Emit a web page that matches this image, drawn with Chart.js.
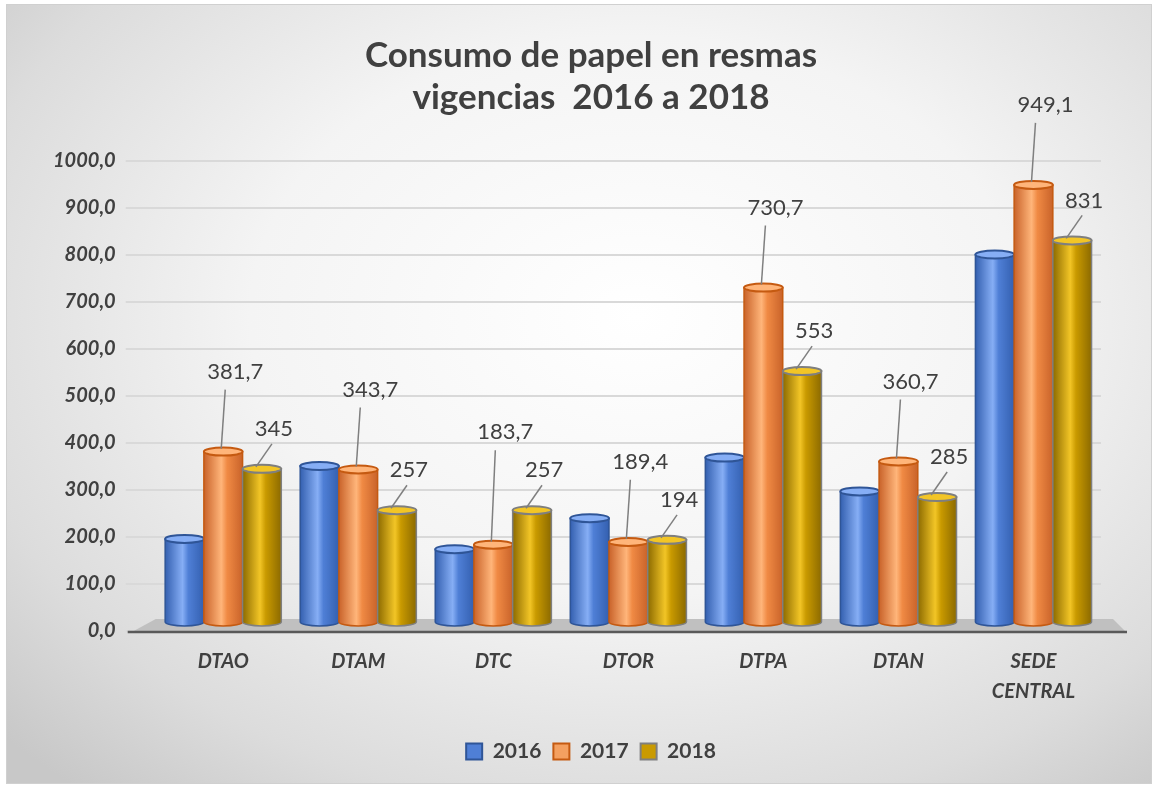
<!DOCTYPE html>
<html>
<head>
<meta charset="utf-8">
<script src="https://cdn.jsdelivr.net/npm/chart.js@4.4.1/dist/chart.umd.min.js"></script>
<style>
  html, body { margin: 0; padding: 0; background: #ffffff; }
  #wrap {
    position: absolute; left: 6px; top: 4px; width: 1144px; height: 778px;
    border: 1px solid #d0d0d0;
    background: radial-gradient(ellipse 75% 80% at 55% 40%, #ffffff 0%, #f4f4f4 45%, #dcdcdc 80%, #c8c8c8 100%);
  }
  canvas { display: block; }
</style>
</head>
<body>
<div id="wrap"><canvas id="chart" width="1144" height="778"></canvas></div>
<script>
// datos
const categories = ['DTAO', 'DTAM', 'DTC', 'DTOR', 'DTPA', 'DTAN', ['SEDE', 'CENTRAL']];
const years = ['2016', '2017', '2018'];
const values2016 = [196, 351, 174, 240, 369, 297, 801];
const values2017 = [381.7, 343.7, 183.7, 189.4, 730.7, 360.7, 949.1];
const values2018 = [345, 257, 257, 194, 553, 285, 831];
const yTickValues = [0, 100, 200, 300, 400, 500, 600, 700, 800, 900, 1000];

const FONT = 'Lato, "Open Sans", sans-serif';
const TEXT = '#404040';

// colores tipo cilindro
const palette = [
  { base: '#4f7fd6', light: '#86aef5', dark: '#3460b0', border: '#2f5597' },
  { base: '#f08a44', light: '#ffb57a', dark: '#c9632a', border: '#c55a11' },
  { base: '#c99a00', light: '#f2c526', dark: '#8c6a00', border: '#7f7f7f' }
];

function fmt(v) {
  return String(v).replace('.', ',');
}

// piso gris bajo las barras
const floorPlugin = {
  id: 'floor',
  beforeDatasetsDraw(chart) {
    const { ctx, chartArea } = chart;
    const y0 = chart.scales.y.getPixelForValue(0);
    ctx.save();
    ctx.fillStyle = '#c0c0c0';
    ctx.beginPath();
    ctx.moveTo(chartArea.left - 22, y0);
    ctx.lineTo(chartArea.left, y0 - 12);
    ctx.lineTo(chartArea.right + 12, y0 - 12);
    ctx.lineTo(chartArea.right + 24, y0);
    ctx.closePath();
    ctx.fill();
    ctx.strokeStyle = '#595959';
    ctx.lineWidth = 2.5;
    ctx.beginPath();
    ctx.moveTo(chartArea.left - 28, y0 + 1);
    ctx.lineTo(chartArea.right + 26, y0 + 1);
    ctx.stroke();
    ctx.restore();
  }
};

// sombreado cilíndrico + elipses
const cylinderPlugin = {
  id: 'cylinder',
  afterDatasetsDraw(chart) {
    const ctx = chart.ctx;
    chart.data.datasets.forEach((ds, di) => {
      const meta = chart.getDatasetMeta(di);
      const p = palette[di];
      meta.data.forEach(el => {
        const w = el.width;
        const left = el.x - w / 2;
        const top = el.y;
        const bottom = el.base - 8;
        const ry = 4;
        const g = ctx.createLinearGradient(left, 0, left + w, 0);
        g.addColorStop(0, p.dark);
        g.addColorStop(0.45, p.light);
        g.addColorStop(0.6, p.base);
        g.addColorStop(1, p.dark);
        ctx.save();
        ctx.fillStyle = g;
        ctx.beginPath();
        ctx.moveTo(left, top);
        ctx.lineTo(left, bottom);
        ctx.ellipse(el.x, bottom, w / 2, ry, 0, Math.PI, 0, true);
        ctx.lineTo(left + w, top);
        ctx.closePath();
        ctx.fill();
        ctx.strokeStyle = p.border;
        ctx.lineWidth = 1.5;
        ctx.stroke();
        // tapa superior
        ctx.beginPath();
        ctx.ellipse(el.x, top, w / 2, ry, 0, 0, Math.PI * 2);
        ctx.fillStyle = p.light;
        ctx.fill();
        ctx.lineWidth = 2;
        ctx.strokeStyle = p.border;
        ctx.stroke();
        ctx.restore();
      });
    });
  }
};

// etiquetas con líneas guía
const labelPlugin = {
  id: 'valueLabels',
  afterDraw(chart) {
    const ctx = chart.ctx;
    const m1 = chart.getDatasetMeta(1);
    const m2 = chart.getDatasetMeta(2);
    const d1 = chart.data.datasets[1].data;
    const d2 = chart.data.datasets[2].data;
    ctx.save();
    ctx.font = '22px ' + FONT;
    ctx.fillStyle = TEXT;
    ctx.textAlign = 'center';
    ctx.textBaseline = 'middle';
    ctx.strokeStyle = '#7f7f7f';
    ctx.lineWidth = 1.5;
    const line = (x1, y1, x2, y2) => {
      ctx.beginPath();
      ctx.moveTo(x1, y1);
      ctx.lineTo(x2, y2);
      ctx.stroke();
    };
    m2.data.forEach((el, i) => {
      const x = el.x, top = el.y;
      const ly2 = top - 40;
      line(x + 10, top - 25, x - 6, top - 2);
      ctx.fillText(fmt(d2[i]), x + 12, ly2);
      // la etiqueta 2017 sube si choca con la de 2018
      const e1 = m1.data[i];
      const ly1 = Math.min(e1.y - 80, ly2 - 38);
      line(e1.x + 2, ly1 + 18, e1.x - 2, e1.y - 3);
      ctx.fillText(fmt(d1[i]), e1.x + 12, ly1);
    });
    ctx.restore();
  }
};

new Chart(document.getElementById('chart'), {
  type: 'bar',
  data: {
    labels: categories,
    datasets: [
      { label: years[0], data: values2016 },
      { label: years[1], data: values2017 },
      { label: years[2], data: values2018 }
    ].map(d => Object.assign(d, {
      yAxisID: 'y',
      backgroundColor: 'rgba(0,0,0,0)',
      borderWidth: 0,
      categoryPercentage: 0.86,
      barPercentage: 1.0
    }))
  },
  options: {
    responsive: false,
    animation: false,
    layout: { padding: { left: 36, right: 12, top: 26, bottom: 11 } },
    scales: {
      x: {
        grid: { display: false },
        border: { display: false },
        afterFit(scale) {
          scale.height += 14;
        },
        ticks: {
          color: TEXT,
          font: { family: FONT, size: 20, weight: 'bold', style: 'italic', lineHeight: 1.5 },
          padding: 8,
          maxRotation: 0,
          autoSkip: false
        }
      },
      y: {
        min: 0,
        max: 1000,
        afterBuildTicks(scale) {
          scale.ticks = yTickValues.map(v => ({ value: v }));
        },
        grid: { color: '#d9d9d9', lineWidth: 2, tickLength: 30 },
        border: { display: false },
        ticks: {
          color: TEXT,
          font: { family: FONT, size: 20, weight: 'bold', style: 'italic' },
          padding: 10,
          callback: v => v.toFixed(1).replace('.', ',')
        }
      },
      // eje vacío a la derecha: sólo reserva margen
      yRight: {
        position: 'right',
        min: 0,
        max: 1000,
        grid: { display: false },
        border: { display: false },
        ticks: { display: false },
        afterFit(scale) {
          scale.width = 38;
        }
      }
    },
    plugins: {
      title: {
        display: true,
        text: ['Consumo de papel en resmas', 'vigencias  2016 a 2018'],
        color: TEXT,
        font: { family: FONT, size: 35, weight: 'bold', lineHeight: 1.2 },
        padding: { top: 4, bottom: 42 }
      },
      legend: {
        position: 'bottom',
        labels: {
          color: TEXT,
          font: { family: FONT, size: 21, weight: 'bold' },
          boxWidth: 16,
          boxHeight: 16,
          padding: 12,
          generateLabels() {
            return years.map((y, i) => ({
              text: y,
              fillStyle: i === 1 ? '#f4a060' : palette[i].base,
              strokeStyle: palette[i].border,
              lineWidth: 2,
              datasetIndex: i,
              fontColor: TEXT
            }));
          }
        }
      },
      tooltip: { enabled: false }
    }
  },
  plugins: [floorPlugin, cylinderPlugin, labelPlugin]
});
</script>
</body>
</html>
